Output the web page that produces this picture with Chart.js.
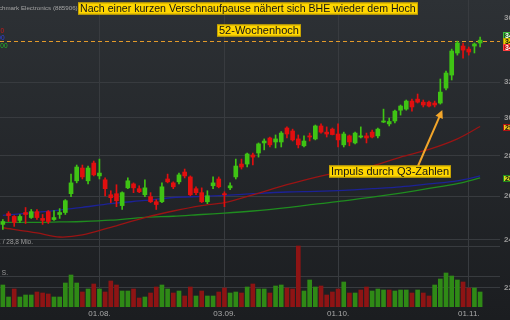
<!DOCTYPE html>
<html lang="de">
<head>
<meta charset="utf-8">
<title>Benchmark Electronics</title>
<script src="https://cdn.jsdelivr.net/npm/chart.js@4.4.1/dist/chart.umd.min.js"></script>
<style>
	html, body { margin: 0; padding: 0; overflow: hidden; background: #1c1e21; }
	#wrap { width: 530px; height: 320px; }
</style>
</head>
<body>
<div id="wrap"><canvas id="bheChart" width="530" height="320"></canvas></div>
<script>
(function () {
	'use strict';

	// Handelstage (die letzten drei bleiben leer, Platz am rechten Rand)
	var dates = [
		'09.07.', '10.07.', '11.07.', '12.07.', '15.07.', '16.07.', '17.07.', '18.07.', '19.07.', '22.07.',
		'23.07.', '24.07.', '25.07.', '26.07.', '29.07.', '30.07.', '31.07.',
		'01.08.', '02.08.', '05.08.', '06.08.', '07.08.', '08.08.', '09.08.', '12.08.', '13.08.', '14.08.',
		'15.08.', '16.08.', '19.08.', '20.08.', '21.08.', '22.08.', '23.08.', '26.08.', '27.08.', '28.08.',
		'29.08.', '30.08.',
		'03.09.', '04.09.', '05.09.', '06.09.', '09.09.', '10.09.', '11.09.', '12.09.', '13.09.', '16.09.',
		'17.09.', '18.09.', '19.09.', '20.09.', '23.09.', '24.09.', '25.09.', '26.09.', '27.09.', '30.09.',
		'01.10.', '02.10.', '03.10.', '04.10.', '07.10.', '08.10.', '09.10.', '10.10.', '11.10.', '14.10.',
		'15.10.', '16.10.', '17.10.', '18.10.', '21.10.', '22.10.', '23.10.', '24.10.', '25.10.', '28.10.',
		'29.10.', '30.10.', '31.10.',
		'01.11.', '04.11.', '05.11.', '06.11.', '07.11.', '08.11.'
	];

	var opens = [
		24.69, 25.18, 25.05, 24.87, 25.23, 25.00, 25.27, 24.96, 25.27, 24.91,
		25.14, 25.23, 26.11, 26.73, 27.36, 26.73, 27.61, 26.97, 26.78, 26.06,
		26.11, 25.55, 26.39, 26.58, 26.35, 26.06, 25.97, 25.73, 25.73, 26.82,
		26.63, 26.68, 27.16, 26.92, 26.35, 26.16, 25.73, 26.49, 26.82, 26.11,
		26.39, 26.92, 27.56, 27.56, 28.02, 28.12, 28.64, 28.90, 28.69, 28.69,
		29.43, 29.27, 28.85, 28.49, 29.01, 28.85, 29.54, 29.21, 29.37, 29.11,
		28.54, 29.01, 28.64, 28.95, 29.01, 29.21, 29.01, 29.75, 29.65, 29.81,
		30.40, 30.46, 30.91, 31.02, 30.85, 30.85, 30.80, 30.80, 31.65, 32.41,
		33.74, 34.17, 33.98, 34.17, 34.36
	];
	var highs = [
		24.91, 25.27, 25.09, 25.14, 25.46, 25.37, 25.37, 25.14, 25.32, 25.32,
		25.41, 25.83, 27.06, 27.51, 27.51, 27.46, 27.71, 27.81, 26.87, 26.25,
		26.54, 26.20, 26.87, 26.63, 26.49, 26.78, 26.16, 25.83, 26.63, 27.06,
		26.68, 27.11, 27.31, 26.97, 26.44, 26.39, 26.25, 26.92, 26.92, 26.20,
		26.63, 27.81, 27.81, 28.12, 28.12, 28.64, 28.85, 28.95, 29.06, 29.24,
		29.49, 29.37, 29.06, 29.01, 29.16, 29.59, 29.65, 29.49, 29.43, 29.65,
		29.21, 29.06, 29.21, 29.49, 29.16, 29.32, 29.43, 30.46, 29.97, 30.40,
		30.69, 30.97, 31.02, 31.31, 30.97, 30.91, 30.91, 32.18, 32.65, 33.98,
		34.48, 34.36, 34.11, 34.36, 34.73
	];
	var lows = [
		24.47, 24.82, 24.60, 24.78, 24.73, 24.96, 24.91, 24.69, 24.73, 24.87,
		24.96, 25.14, 25.97, 26.63, 26.82, 26.58, 26.97, 26.82, 26.01, 25.69,
		25.50, 25.37, 26.35, 26.16, 26.16, 25.97, 25.69, 25.37, 25.69, 26.63,
		26.35, 26.58, 26.87, 26.01, 26.06, 25.69, 25.64, 26.35, 26.39, 25.50,
		26.30, 26.82, 27.31, 27.41, 27.51, 27.91, 28.28, 28.43, 28.38, 28.43,
		28.90, 28.74, 28.38, 28.43, 28.74, 28.80, 29.16, 28.95, 29.06, 28.43,
		28.43, 28.49, 28.59, 28.90, 28.64, 28.90, 28.90, 29.72, 29.54, 29.70,
		30.13, 30.40, 30.35, 30.80, 30.58, 30.58, 30.58, 30.74, 31.54, 32.12,
		33.61, 33.43, 33.61, 33.74, 34.11
	];
	var closes = [
		24.82, 25.09, 24.78, 25.05, 25.14, 25.27, 25.00, 24.87, 24.82, 25.00,
		25.23, 25.78, 26.63, 27.41, 26.92, 27.36, 27.02, 27.11, 26.35, 25.92,
		25.78, 26.16, 26.73, 26.39, 26.20, 26.39, 25.73, 25.60, 26.44, 26.68,
		26.44, 27.02, 26.97, 26.06, 26.16, 25.73, 26.01, 26.63, 26.44, 26.06,
		26.49, 27.46, 27.41, 28.07, 27.91, 28.59, 28.74, 28.54, 28.85, 29.16,
		29.11, 28.80, 28.54, 28.74, 28.95, 29.54, 29.21, 29.11, 29.08, 28.80,
		29.11, 28.69, 29.16, 29.01, 28.90, 28.95, 29.37, 29.81, 29.78, 30.35,
		30.63, 30.91, 30.58, 30.85, 30.69, 30.63, 30.69, 31.42, 32.53, 33.86,
		34.36, 33.92, 33.80, 34.30, 34.54
	];
	// Umsatz in Tsd. Stück
	var volumes = [
		352, 160, 288, 160, 192, 192, 240, 224, 208, 160,
		160, 384, 512, 384, 240, 288, 368, 288, 240, 416,
		352, 256, 256, 288, 144, 160, 224, 320, 352, 288,
		224, 256, 176, 320, 176, 256, 176, 176, 240, 304,
		224, 240, 224, 320, 368, 288, 288, 224, 336, 352,
		304, 288, 976, 256, 432, 320, 336, 192, 240, 288,
		400, 224, 224, 272, 320, 256, 288, 272, 272, 256,
		272, 272, 224, 272, 224, 176, 352, 448, 544, 496,
		432, 400, 304, 304, 240
	];

	var maDates = ['09.07.', '17.07.', '23.07.', '29.07.', '05.08.', '13.08.', '20.08.', '27.08.', '03.09.',
		'10.09.', '18.09.', '25.09.', '02.10.', '09.10.', '16.10.', '23.10.', '30.10.', '05.11.'];
	var ma50 = [24.54, 24.31, 24.13, 24.22, 24.56, 25.00, 25.30, 25.55, 25.69,
		26.06, 26.54, 26.90, 27.19, 27.46, 27.91, 28.30, 28.85, 29.51];
	var ma100 = [25.10, 25.24, 25.34, 25.47, 25.64, 25.79, 25.93, 25.98, 26.03,
		26.11, 26.19, 26.22, 26.27, 26.35, 26.44, 26.58, 26.73, 26.97];
	var ma200 = [24.78, 24.78, 24.80, 24.82, 24.88, 25.01, 25.06, 25.14, 25.20,
		25.30, 25.46, 25.62, 25.77, 25.95, 26.14, 26.36, 26.59, 26.87];

	var priceTicks = [22, 24, 26, 28, 30, 32, 34, 36];
	var monthTicks = ['01.08.', '03.09.', '01.10.', '01.11.'];
	var volGrid = [496, 976];
	var high52 = 34.48;
	var impulseDay = 77;

	var FONT = '"Liberation Sans", Arial, sans-serif';
	var gridColor = '#383b3f';
	var upBody = '#3fc414', downBody = '#e10f0f';
	var upVol = '#2f8a16', downVol = '#8e1414';

	function maPoints(values) {
		return values.map(function (v, i) {
			return { x: maDates[i], y: v };
		});
	}

	var candleColors = closes.map(function (c, i) {
		return c >= opens[i] ? upBody : downBody;
	});
	var volColors = volumes.map(function (v, i) {
		return (i === 0 || closes[i] >= closes[i - 1]) ? upVol : downVol;
	});

	function noteBox(c, text, x, y, align, size) {
		c.font = (size || 11) + 'px ' + FONT;
		var w = Math.ceil(c.measureText(text).width) + 4;
		var left = align === 'left' ? x : Math.round(x - w / 2);
		c.fillStyle = '#ffd600';
		c.fillRect(left, y - 6, w, 12);
		c.strokeStyle = '#c8a400';
		c.lineWidth = 1;
		c.strokeRect(left + 0.5, y - 5.5, w - 1, 11);
		c.fillStyle = '#151515';
		c.textAlign = 'left';
		c.textBaseline = 'middle';
		c.fillText(text, left + 2, y + 0.5);
	}

	function priceTag(c, x, y, text, bg, border, fg) {
		y = Math.round(y);
		c.fillStyle = bg;
		c.fillRect(x, y - 3, 30, 7);
		c.strokeStyle = border;
		c.lineWidth = 1;
		c.strokeRect(x + 0.5, y - 2.5, 29, 6);
		c.fillStyle = fg;
		c.font = 'bold 7px ' + FONT;
		c.textAlign = 'left';
		c.textBaseline = 'middle';
		c.fillText(text, x + 2, y + 1);
	}

	var bhePlugin = {
		id: 'bheNotes',
		beforeDraw: function (chart) {
			var c = chart.ctx;
			var g = c.createLinearGradient(0, 0, 0, chart.height);
			g.addColorStop(0, '#2d3135');
			g.addColorStop(1, '#1b1d20');
			c.save();
			c.fillStyle = g;
			c.fillRect(0, 0, chart.width, chart.height);
			c.restore();
		},
		beforeDatasetsDraw: function (chart) {
			var c = chart.ctx;
			var a = chart.chartArea;
			var vs = chart.scales.yVol;
			var ys = chart.scales.y;
			c.save();
			c.strokeStyle = gridColor;
			c.lineWidth = 1;
			volGrid.forEach(function (v) {
				var y = Math.round(vs.getPixelForValue(v)) + 0.5;
				c.beginPath();
				c.moveTo(a.left, y);
				c.lineTo(a.right, y);
				c.stroke();
			});
			var hy = Math.round(ys.getPixelForValue(high52)) + 0.5;
			c.strokeStyle = '#e39a2a';
			c.setLineDash([4, 3]);
			c.beginPath();
			c.moveTo(a.left, hy);
			c.lineTo(a.right, hy);
			c.stroke();
			c.restore();
		},
		afterDraw: function (chart) {
			var c = chart.ctx;
			var a = chart.chartArea;
			var xs = chart.scales.x;
			var ys = chart.scales.y;
			var vs = chart.scales.yVol;
			c.save();

			// Titel (links abgeschnitten)
			c.font = '6.2px ' + FONT;
			c.fillStyle = '#a4a4a4';
			c.textAlign = 'left';
			c.textBaseline = 'middle';
			c.fillText('Benchmark Electronics (885906)', 2 - c.measureText('Benc').width, 8.5);

			// Legende der Durchschnitte (links abgeschnitten)
			c.font = '6.5px ' + FONT;
			c.textAlign = 'right';
			c.fillStyle = '#d01818';
			c.fillText('GD 50', 4, 31);
			c.fillStyle = '#3040e0';
			c.fillText('GD 100', 4.5, 38.5);
			c.fillStyle = '#27b827';
			c.fillText('GD 200', 7.5, 46.5);

			// Umsatz-Beschriftung
			c.fillStyle = '#9c9c9c';
			c.fillText('976 T S. / 28,8 Mio.', 33, vs.getPixelForValue(volGrid[1]) - 4);
			c.fillText('496 T S.', 8, vs.getPixelForValue(volGrid[0]) - 3);

			noteBox(c, 'Nach einer kurzen Verschnaufpause nähert sich BHE wieder dem Hoch', 78, 8.5, 'left', 10.6);
			noteBox(c, '52-Wochenhoch', 258.5, 30.5);

			// Pfeil auf die Q3-Kerze
			var tipX = xs.getPixelForValue(impulseDay) + 2;
			var tipY = ys.getPixelForValue(lows[impulseDay]) + 6;
			var fromX = 418, fromY = 166;
			var ang = Math.atan2(tipY - fromY, tipX - fromX);
			c.strokeStyle = '#f3a62a';
			c.fillStyle = '#f3a62a';
			c.lineWidth = 2;
			c.beginPath();
			c.moveTo(fromX, fromY);
			c.lineTo(tipX - 5 * Math.cos(ang), tipY - 5 * Math.sin(ang));
			c.stroke();
			c.beginPath();
			c.moveTo(tipX, tipY);
			c.lineTo(tipX - 8 * Math.cos(ang) + 4 * Math.sin(ang), tipY - 8 * Math.sin(ang) - 4 * Math.cos(ang));
			c.lineTo(tipX - 8 * Math.cos(ang) - 4 * Math.sin(ang), tipY - 8 * Math.sin(ang) + 4 * Math.cos(ang));
			c.closePath();
			c.fill();

			noteBox(c, 'Impuls durch Q3-Zahlen', 390, 171.5);

			// Kursmarken am rechten Rand
			var tx = a.right + 3;
			priceTag(c, tx, ys.getPixelForValue(34.85), '34,85', '#1e6a1e', '#3dbd3d', '#ffffff');
			priceTag(c, tx, ys.getPixelForValue(high52), '34,48', '#e8d400', '#b8a400', '#111111');
			priceTag(c, tx, ys.getPixelForValue(34.10), '34,10', '#c41010', '#ff4040', '#ffffff');
			priceTag(c, tx, ys.getPixelForValue(ma50[ma50.length - 1]), '29,51', '#f2c21a', '#b01212', '#111111');
			priceTag(c, tx, ys.getPixelForValue(ma200[ma200.length - 1]), '26,87', '#d6e01e', '#1e8c1e', '#111111');

			c.restore();
		}
	};

	new Chart(document.getElementById('bheChart'), {
		data: {
			labels: dates,
			datasets: [
				{
					type: 'bar',
					label: 'Körper',
					data: opens.map(function (o, i) { return [o, closes[i]]; }),
					backgroundColor: candleColors,
					barThickness: 4,
					minBarLength: 1,
					grouped: false,
					yAxisID: 'y',
					order: 0,
				},
				{
					type: 'bar',
					label: 'Docht',
					data: lows.map(function (l, i) { return [l, highs[i]]; }),
					backgroundColor: candleColors,
					barThickness: 1,
					grouped: false,
					yAxisID: 'y',
					order: 1,
				},
				{
					type: 'line',
					label: 'GD 50',
					data: maPoints(ma50),
					borderColor: '#9a1414',
					borderWidth: 1.3,
					pointRadius: 0,
					tension: 0.3,
					yAxisID: 'y',
					order: 2,
				},
				{
					type: 'line',
					label: 'GD 100',
					data: maPoints(ma100),
					borderColor: '#1c2296',
					borderWidth: 1.3,
					pointRadius: 0,
					tension: 0.3,
					yAxisID: 'y',
					order: 2,
				},
				{
					type: 'line',
					label: 'GD 200',
					data: maPoints(ma200),
					borderColor: '#1f8c1f',
					borderWidth: 1.3,
					pointRadius: 0,
					tension: 0.3,
					yAxisID: 'y',
					order: 2,
				},
				{
					type: 'bar',
					label: 'Umsatz',
					data: volumes,
					backgroundColor: volColors,
					barThickness: 4,
					grouped: false,
					yAxisID: 'yVol',
					order: 3,
				},
			],
		},
		options: {
			responsive: false,
			animation: false,
			devicePixelRatio: 1,
			events: [],
			layout: { padding: 0 },
			plugins: {
				legend: { display: false },
				tooltip: { enabled: false },
			},
			scales: {
				x: {
					type: 'category',
					offset: true,
					grid: {
						offset: false,
						drawTicks: false,
						color: function (ctx) {
							return monthTicks.indexOf(dates[ctx.index]) >= 0 ? gridColor : 'rgba(0,0,0,0)';
						},
					},
					border: { display: false },
					ticks: {
						autoSkip: false,
						maxRotation: 0,
						padding: 2,
						color: '#a9a9a9',
						font: { family: FONT, size: 8 },
						callback: function (value) {
							var l = this.getLabelForValue(value);
							return monthTicks.indexOf(l) >= 0 ? l : '';
						},
					},
					afterFit: function (scale) {
						scale.height = 13;
						scale.paddingLeft = 0;
						scale.paddingRight = 0;
					},
				},
				y: {
					type: 'logarithmic',
					position: 'right',
					min: 21.24,
					max: 37.16,
					afterBuildTicks: function (scale) {
						scale.ticks = priceTicks.map(function (v) { return { value: v }; });
					},
					grid: {
						drawTicks: false,
						color: function (ctx) {
							return ctx.tick && ctx.tick.value <= 32 ? gridColor : 'rgba(0,0,0,0)';
						},
					},
					border: { display: false },
					ticks: {
						padding: 4,
						color: '#9a9a9a',
						font: { family: FONT, size: 8, weight: 'bold' },
						callback: function (v) { return v.toFixed(2).replace('.', ','); },
					},
					afterFit: function (scale) {
						scale.width = 30;
						scale.paddingTop = 0;
						scale.paddingBottom = 0;
					},
				},
				yVol: {
					type: 'linear',
					display: false,
					min: 0,
					max: 4912,
				},
			},
		},
		plugins: [bhePlugin],
	});
})();
</script>
</body>
</html>
